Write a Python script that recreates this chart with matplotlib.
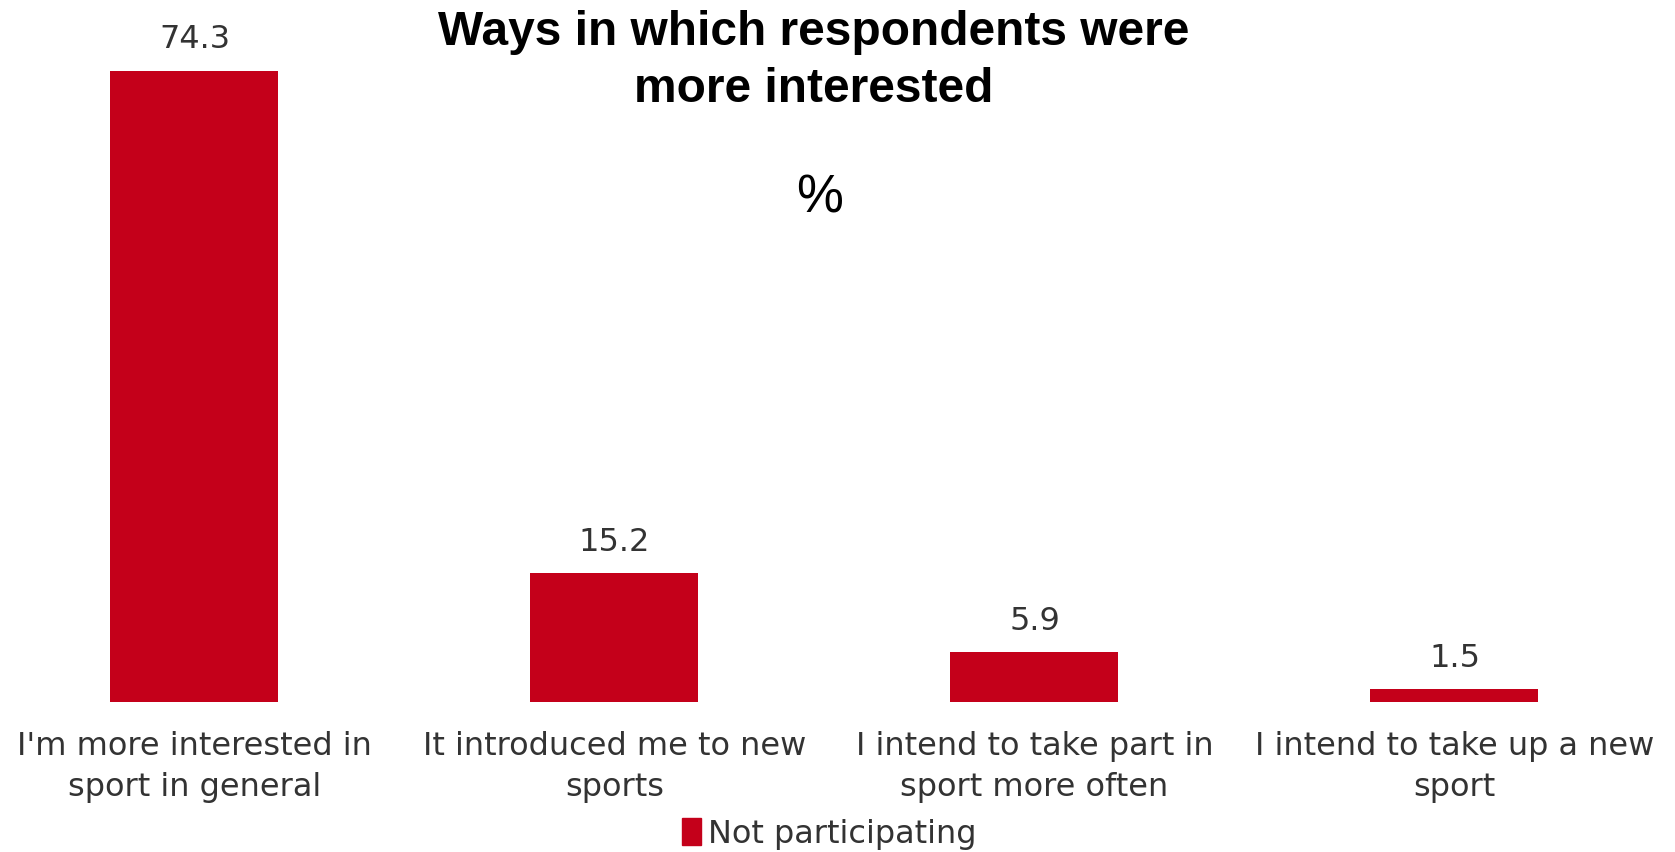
import numpy as np
import matplotlib.pyplot as plt
from matplotlib.patches import Patch

# data
categories = ["I'm more interested in\nsport in general",
              "It introduced me to new\nsports",
              "I intend to take part in\nsport more often",
              "I intend to take up a new\nsport"]
values = [74.3, 15.2, 5.9, 1.5]
series_name = "Not participating"

bar_color = "#C4001A"
text_color = "#333333"

fig = plt.figure(figsize=(16.75, 8.52), dpi=100)
ax = fig.add_axes([0, 0.176, 1, 0.824])

x = np.arange(len(categories))
bars = ax.bar(x, values, width=0.4, color=bar_color)

ax.set_xlim(-0.463, 3.525)
ax.set_ylim(0, 82.6)

for b, v in zip(bars, values):
    ax.annotate(f"{v:.1f}", (b.get_x() + b.get_width() / 2, v),
                xytext=(0, 11), textcoords="offset points",
                ha="center", va="bottom", fontsize=23, color=text_color)

for xi, lab in zip(x, categories):
    ax.text(xi, -3.4, lab, ha="center", va="top", fontsize=23,
            color=text_color, linespacing=1.42)

for s in ax.spines.values():
    s.set_visible(False)
ax.set_xticks([])
ax.set_yticks([])

fig.text(0.486, 0.988, "Ways in which respondents were\nmore interested",
         ha="center", va="top", fontsize=34.5, fontweight="bold",
         family="Liberation Sans", linespacing=1.33)
fig.text(0.489, 0.767, "%", ha="center", va="center", fontsize=38,
         family="Liberation Sans")

fig.legend(handles=[Patch(color=bar_color)], labels=[series_name],
           loc="center", bbox_to_anchor=(0.495, 0.021), frameon=False,
           fontsize=23, handlelength=0.6, handleheight=0.9, handletextpad=0.2,
           labelcolor=text_color)

fig.savefig("out.png", dpi=100)
